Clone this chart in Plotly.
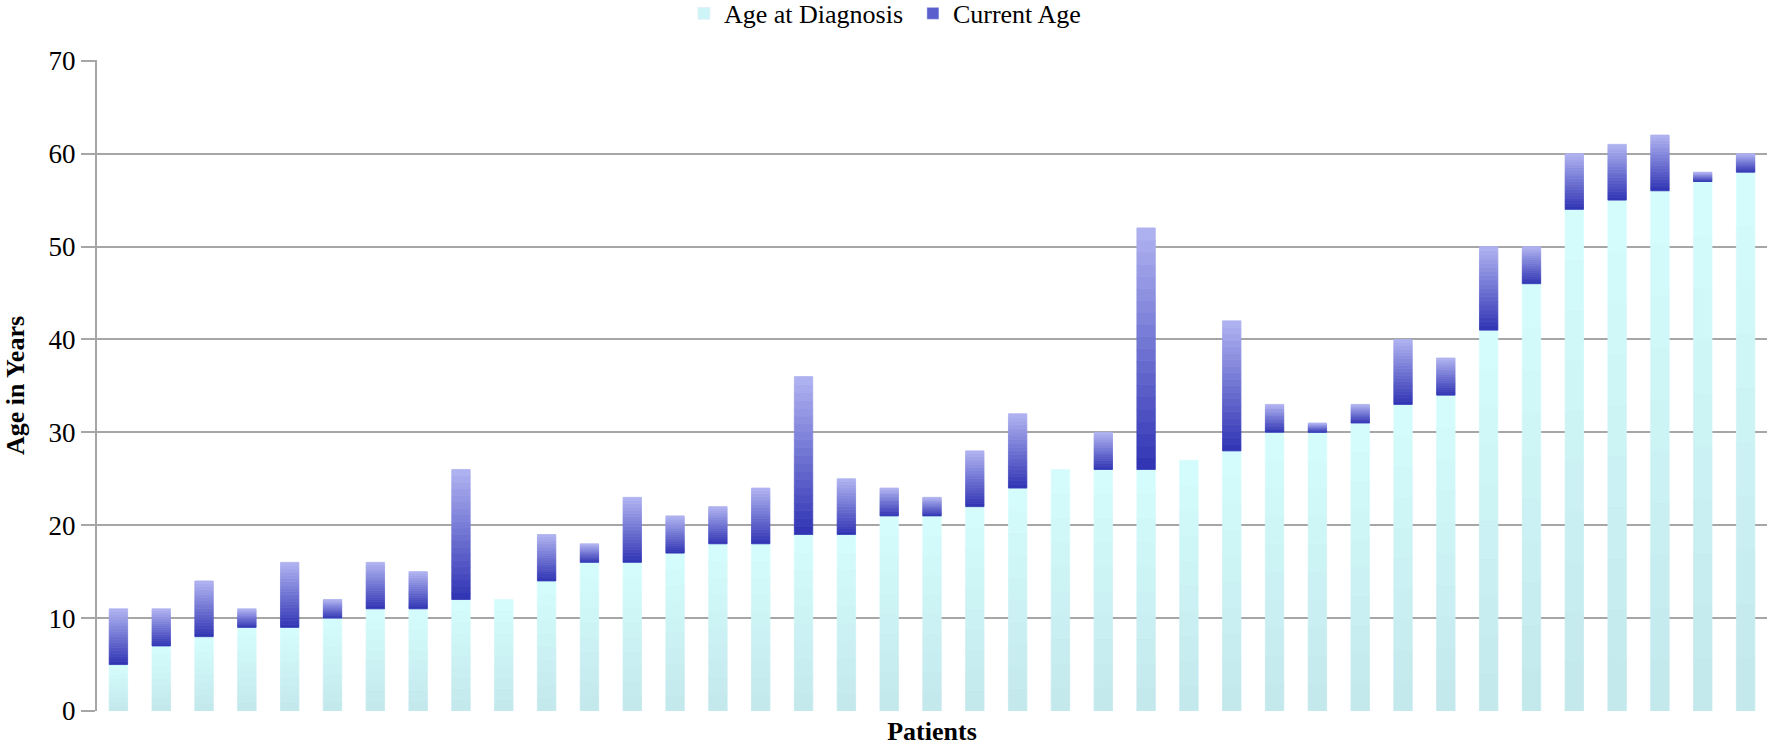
import plotly.graph_objects as go

patients = list(range(1, 40))
age_at_diagnosis = [5, 7, 8, 9, 9, 10, 11, 11, 12, 12, 14, 16, 16, 17, 18, 18, 19, 19, 21, 21,
                    22, 24, 26, 26, 26, 27, 28, 30, 30, 31, 33, 34, 41, 46, 54, 55, 56, 57, 58]
current_age = [11, 11, 14, 11, 16, 12, 16, 15, 26, 12, 19, 18, 23, 21, 22, 24, 36, 25, 24, 23,
               28, 32, 26, 30, 52, 27, 42, 33, 31, 33, 40, 38, 50, 50, 60, 61, 62, 58, 60]
y_ticks = [0, 10, 20, 30, 40, 50, 60, 70]


def lerp(c1, c2, t):
    a = [int(c1[i:i + 2], 16) for i in (1, 3, 5)]
    b = [int(c2[i:i + 2], 16) for i in (1, 3, 5)]
    return "rgb(%d,%d,%d)" % tuple(round(a[j] + (b[j] - a[j]) * t) for j in range(3))


fig = go.Figure()

N_D = 10
diag_bottom, diag_top = "#c2e8ec", "#d6fdfd"
for k in range(N_D):
    col = lerp(diag_bottom, diag_top, (k + 0.5) / N_D)
    fig.add_trace(go.Bar(
        x=patients,
        y=[d / N_D for d in age_at_diagnosis],
        base=[d * k / N_D for d in age_at_diagnosis],
        marker=dict(color=col, line=dict(width=0.8, color=col)),
        name="Age at Diagnosis", showlegend=False, hoverinfo="skip",
    ))

N_C = 20
cur_bottom, cur_top = "#2f33b3", "#b1b4f1"
deltas = [c - d for d, c in zip(age_at_diagnosis, current_age)]
for k in range(N_C):
    col = lerp(cur_bottom, cur_top, (k + 0.5) / N_C)
    fig.add_trace(go.Bar(
        x=patients,
        y=[dl / N_C for dl in deltas],
        base=[d + dl * k / N_C for d, dl in zip(age_at_diagnosis, deltas)],
        marker=dict(color=col,
                    line=dict(width=[0.8 if dl > 0 else 0 for dl in deltas], color=col)),
        name="Current Age", showlegend=False, hoverinfo="skip",
    ))

# legend entries
fig.add_trace(go.Bar(x=[None], y=[None], name="Age at Diagnosis",
                     marker=dict(color="#cdf4f6"), showlegend=True, legendrank=1))
fig.add_trace(go.Bar(x=[None], y=[None], name="Current Age",
                     marker=dict(color="#5a5fcd"), showlegend=True, legendrank=2))

fig.update_layout(
    width=1782, height=746,
    barmode="overlay", bargap=0.57,
    plot_bgcolor="white", paper_bgcolor="white",
    margin=dict(l=97, r=15, t=60, b=35, autoexpand=False),
    font=dict(family="Liberation Serif", size=26, color="black"),
    legend=dict(orientation="h", x=0.5123, xanchor="center", xref="container",
                y=0.982, yanchor="middle", yref="container",
                font=dict(size=26), itemwidth=30, entrywidth=184,
                traceorder="normal", tracegroupgap=0),
    xaxis=dict(
        range=[0.5, 39.5], showticklabels=False, showgrid=False, zeroline=False,
        ticks="", showline=False,
        title=dict(text="<b>Patients</b>", font=dict(size=26), standoff=10),
    ),
    yaxis=dict(
        range=[0, 70.08], tickvals=y_ticks, showgrid=True, gridcolor="#a6a6a6", gridwidth=2,
        zeroline=False, showline=True, linecolor="#a6a6a6", linewidth=2,
        ticks="outside", ticklen=14, tickcolor="#a6a6a6", tickwidth=2,
        title=dict(text="<b>Age in Years</b>", font=dict(size=26), standoff=16),
        tickfont=dict(size=27),
    ),
)

fig.write_html("out.html", config={"displayModeBar": False},
               post_script="document.body.style.margin='0';")
